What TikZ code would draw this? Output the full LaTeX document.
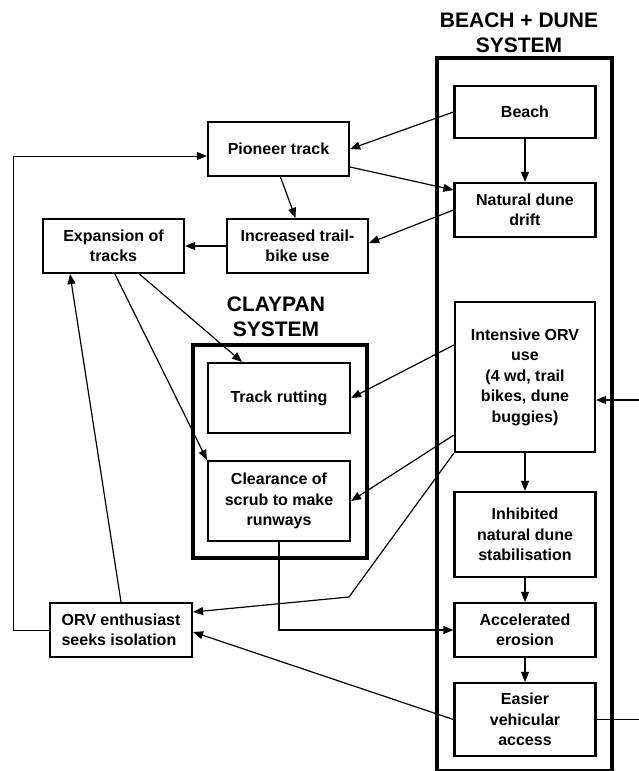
\documentclass[tikz,border=0pt]{standalone}
\usepackage{fontspec}
\setmainfont{Liberation Sans}
\usetikzlibrary{arrows.meta}

\begin{document}
\begin{tikzpicture}[x=1pt,y=-1pt,
  >={Triangle[length=10pt,width=8pt]},
  box/.style={draw,line width=2.2pt,align=center,inner sep=0pt,minimum width=141pt,font=\bfseries\fontsize{16}{20.5}\selectfont},
  sysbox/.style={draw,line width=4pt},
  systitle/.style={align=center,font=\bfseries\fontsize{21}{25}\selectfont},
  link/.style={->,line width=1.2pt}]
\useasboundingbox (0,0) rectangle (638,771);
% the two system frames
\draw[sysbox] (437,58) rectangle (612,771);
\node[systitle] at (519,33) (dunetitle) {BEACH + DUNE\\SYSTEM};
\draw[sysbox] (193,345) rectangle (367,558);
\node[systitle] at (276,317) (claytitle) {CLAYPAN\\SYSTEM};
% beach + dune column
\node[box,minimum height=52pt] at (525,112) (beach) {Beach};
\node[box,minimum height=54pt] at (525,210) (drift) {Natural dune\\drift};
\node[box,minimum height=150pt,minimum width=140pt] at (525,377) (orvuse) {Intensive ORV\\use\\(4 wd, trail\\bikes, dune\\buggies)};
\node[box,minimum height=85pt] at (525,534.5) (inhibited) {Inhibited\\natural dune\\stabilisation};
\node[box,minimum height=54pt] at (525,630) (erosion) {Accelerated\\erosion};
\node[box,minimum height=73pt] at (525,719.5) (access) {Easier\\vehicular\\access};
% tracks
\node[box,minimum height=54pt] at (278.5,149) (pioneer) {Pioneer track};
\node[box,minimum height=54pt] at (297.5,246) (trailbike) {Increased trail-\\bike use};
\node[box,minimum height=54pt] at (113.5,246) (expansion) {Expansion of\\tracks};
% claypan
\node[box,minimum height=70pt,minimum width=142pt] at (279,398) (rutting) {Track rutting};
\node[box,minimum height=80pt,minimum width=142pt] at (279,501) (clearance) {Clearance of\\scrub to make\\runways};
\node[box,minimum height=54pt,minimum width=142pt,align=left] at (121,630) (isolation) {ORV enthusiast\\seeks isolation};
\coordinate (bend) at (349,597);
\coordinate (rimlow) at (640,719.5);
\coordinate (rimhigh) at (640,400);
% links
\draw[link] (beach.west) -- (pioneer.east);
\draw[link] ([yshift=-18pt]pioneer.east) -- ([yshift=20pt]drift.west);
\draw[link] (drift.west) -- ([yshift=3pt]trailbike.east);
\draw[link] (beach.south) -- (drift.north);
\draw[link] ([xshift=2pt]pioneer.south) -- ([xshift=-2pt]trailbike.north);
\draw[link] (trailbike.west) -- (expansion.east);
\draw[link] ([xshift=26pt]expansion.south) -- ([xshift=-37pt]rutting.north);
\draw[link] ([xshift=1.5pt]expansion.south) -- (clearance.north west);
\draw[link] ([yshift=32pt]orvuse.west) -- (rutting.east);
\draw[link] ([yshift=-58pt]orvuse.west) -- (clearance.east);
\draw[link] (orvuse.south west) -- (bend) -- ([yshift=18pt]isolation.east);
\draw[link] (access.west) -- ([yshift=-2pt]isolation.east);
\draw[link] (isolation.north) -- ([xshift=-43.5pt]expansion.south);
\draw[link,line width=1pt] (isolation.west) -- ++(-35,0) |- ([yshift=-7pt]pioneer.west);
\draw[link] (clearance.south) |- (erosion.west);
\draw[link] (orvuse.south) -- (inhibited.north);
\draw[link] (inhibited.south) -- (erosion.north);
\draw[link] (erosion.south) -- (access.north);
\draw[line width=1.2pt] (access.east) -- (rimlow);
\draw[link] (rimhigh) -- ([yshift=-23pt]orvuse.east);
\end{tikzpicture}
\end{document}
